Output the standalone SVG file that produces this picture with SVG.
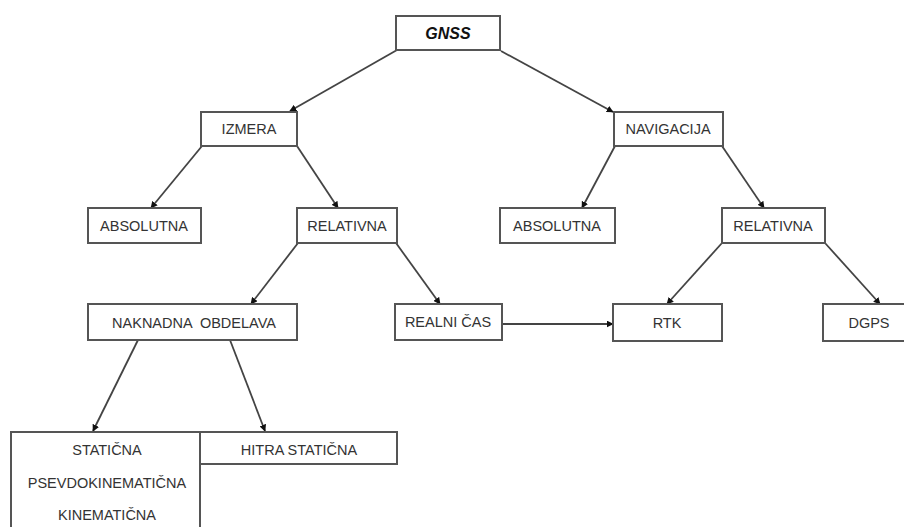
<svg xmlns="http://www.w3.org/2000/svg" width="904" height="527" viewBox="0 0 904 527">
<defs>
<style>
.box{fill:#fff;stroke:#555;stroke-width:2}
.t{font-family:"Liberation Sans",Arial,sans-serif;font-size:14.5px;fill:#333;text-anchor:middle}
.e{stroke:#444;stroke-width:1.8;fill:none;marker-end:url(#ah)}
</style>
<marker id="ah" viewBox="0 0 10 10" refX="9" refY="5" markerWidth="7" markerHeight="7" markerUnits="userSpaceOnUse" orient="auto">
<path d="M0,0 L10,5 L0,10 z" fill="#111"/>
</marker>
</defs>
<rect width="904" height="527" fill="#fff"/>
<g id="connectors">
<line class="e" x1="397" y1="50" x2="290" y2="111"/>
<line class="e" x1="501" y1="51" x2="613" y2="112"/>
<line class="e" x1="202" y1="146" x2="151" y2="208"/>
<line class="e" x1="297" y1="146" x2="338" y2="208"/>
<line class="e" x1="615" y1="146" x2="582" y2="208"/>
<line class="e" x1="722" y1="146" x2="764" y2="208"/>
<line class="e" x1="298" y1="243" x2="251" y2="304"/>
<line class="e" x1="396" y1="243" x2="440" y2="304"/>
<line class="e" x1="722" y1="243" x2="667" y2="304"/>
<line class="e" x1="825" y1="243" x2="880" y2="304"/>
<line class="e" x1="502" y1="324" x2="613" y2="324"/>
<line class="e" x1="138" y1="340" x2="93" y2="431"/>
<line class="e" x1="230" y1="340" x2="265" y2="431"/>
</g>
<g id="gnss"><rect class="box" x="396" y="16" width="104" height="34"/><text x="448" y="39" class="t" style="font-weight:bold;font-style:italic;font-size:16px;fill:#111">GNSS</text></g>
<g id="izmera"><rect class="box" x="201" y="112" width="96" height="34"/><text x="249" y="134" class="t">IZMERA</text></g>
<g id="navigacija"><rect class="box" x="614" y="112" width="109" height="34"/><text x="668" y="134" class="t">NAVIGACIJA</text></g>
<g id="absolutna1"><rect class="box" x="88" y="208" width="113" height="35"/><text x="144" y="231" class="t">ABSOLUTNA</text></g>
<g id="relativna1"><rect class="box" x="297" y="208" width="100" height="35"/><text x="347" y="231" class="t">RELATIVNA</text></g>
<g id="absolutna2"><rect class="box" x="500" y="208" width="115" height="35"/><text x="557" y="231" class="t">ABSOLUTNA</text></g>
<g id="relativna2"><rect class="box" x="722" y="208" width="103" height="35"/><text x="773" y="231" class="t">RELATIVNA</text></g>
<g id="naknadna"><rect class="box" x="88" y="304" width="209" height="36"/><text x="194" y="328" class="t" xml:space="preserve">NAKNADNA  OBDELAVA</text></g>
<g id="realni"><rect class="box" x="395" y="304" width="107" height="36"/><text x="448" y="327" class="t">REALNI ČAS</text></g>
<g id="rtk"><rect class="box" x="613" y="304" width="109" height="37"/><text x="667" y="328" class="t">RTK</text></g>
<g id="dgps"><rect class="box" x="823" y="304" width="83" height="37"/><text x="869" y="328" class="t">DGPS</text></g>
<g id="staticna"><rect class="box" x="11" y="432" width="189" height="100"/><text x="107" y="455" class="t">STATIČNA</text><text x="107" y="488" class="t">PSEVDOKINEMATIČNA</text><text x="107" y="520" class="t">KINEMATIČNA</text></g>
<g id="hitra"><rect class="box" x="200" y="432" width="197" height="32"/><text x="299" y="455" class="t">HITRA STATIČNA</text></g>
</svg>
